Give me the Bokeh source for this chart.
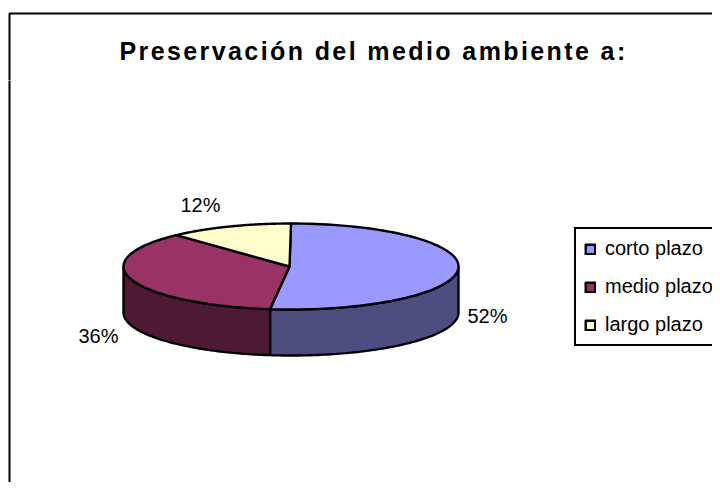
import numpy as np
from bokeh.plotting import figure
from bokeh.layouts import column
from bokeh.models import Range1d, Legend, LegendItem, Label
from bokeh.embed import file_html
from bokeh.resources import INLINE

title = "Preservación del medio ambiente a:"
categories = ["corto plazo", "medio plazo", "largo plazo"]
shares = [52, 36, 12]
labels = ["52%", "36%", "12%"]
top_colors = ["#9999FF", "#993366", "#FFFFCC"]
side_colors = ["#4D4D80", "#4D1933", None]
label_x = [487, 98, 200]
label_y = [315, 335, 204]

CX, CY, A, B, DEPTH = 290.5, 266, 167.5, 43, 46
W, H, SPLIT = 712, 482, 80
LW = 2.4


def bare(fig):
    fig.axis.visible = False
    fig.grid.visible = False
    return fig


head = bare(figure(width=W, height=SPLIT, output_backend="svg", toolbar_location=None,
                   x_range=Range1d(0, W), y_range=Range1d(SPLIT, 0), min_border=0,
                   outline_line_color=None, styles={"letter-spacing": "2.4px"}))
head.line([9, 9, W + 5], [SPLIT + 5, 13, 13], line_color="black", line_width=2)
head.add_layout(Label(x=119, y=50, text=title, text_align="left", text_baseline="middle",
                      text_font="Liberation Sans", text_font_style="bold",
                      text_font_size="25px", text_color="black"))

p = bare(figure(width=W, height=H - SPLIT, output_backend="svg", toolbar_location=None,
                x_range=Range1d(0, W), y_range=Range1d(H, SPLIT), min_border=0,
                outline_line_color=None, background_fill_color="white"))
p.line([9, 9], [SPLIT - 5, H + 5], line_color="black", line_width=2)


def pts(t0, t1):
    t = np.linspace(t0, t1, 90)
    return CX + A * np.sin(t), CY - B * np.cos(t)


fractions = np.cumsum([0] + shares) / sum(shares) * 2 * np.pi
# side walls: only the front half (angles between pi/2 and 3pi/2) is visible
for i, col in enumerate(side_colors):
    t0, t1 = max(fractions[i], np.pi / 2), min(fractions[i + 1], 3 * np.pi / 2)
    if col is None or t1 <= t0:
        continue
    x, y = pts(t0, t1)
    p.patch(np.r_[x, x[::-1]], np.r_[y, y[::-1] + DEPTH],
            fill_color=col, line_color="black", line_width=LW)

items = []
for i, name in enumerate(categories):
    x, y = pts(fractions[i], fractions[i + 1])
    r = p.patch(np.r_[CX - 1.5, x], np.r_[CY, y], fill_color=top_colors[i],
                line_color="black", line_width=LW, line_join="round")
    items.append(LegendItem(label=name, renderers=[r]))

for t, lx, ly in zip(labels, label_x, label_y):
    p.add_layout(Label(x=lx, y=ly, text=t, text_align="center", text_baseline="middle",
                       text_font="Liberation Sans", text_font_size="20px", text_color="black"))

legend = Legend(items=items, location=(574, 136), orientation="vertical",
                border_line_color="black", border_line_width=2, border_line_alpha=1,
                background_fill_color="white", background_fill_alpha=1,
                label_text_font="Liberation Sans", label_text_font_size="20px",
                label_text_color="black", label_height=23, glyph_height=12, glyph_width=12,
                label_standoff=9, spacing=15, padding=8, margin=0)
p.add_layout(legend)

page = column(head, p, spacing=0)
open("out.html", "w").write(file_html(page, INLINE))
